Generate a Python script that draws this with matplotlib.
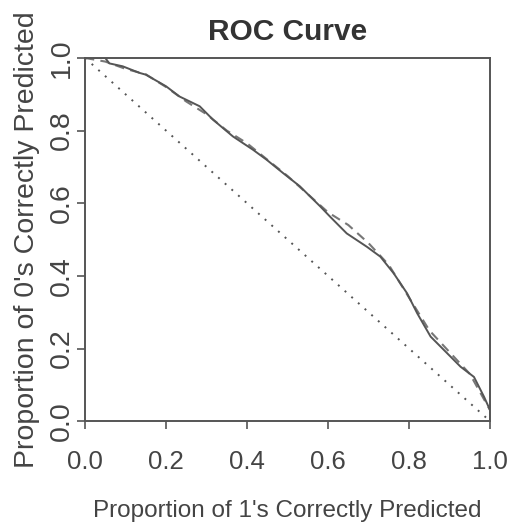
import matplotlib.pyplot as plt

# empirical ROC (solid)
fpr_obs = [0.0, 0.05, 0.06, 0.093, 0.134, 0.15, 0.2, 0.233, 0.283, 0.316, 0.365, 0.415,
           0.448, 0.489, 0.53, 0.58, 0.605, 0.646, 0.696, 0.729, 0.762, 0.795, 0.82,
           0.853, 0.886, 0.927, 0.96, 0.985, 1.0, 1.0]
tnr_obs = [1.0, 1.0, 0.985, 0.977, 0.959, 0.954, 0.922, 0.894, 0.867, 0.83, 0.784, 0.747,
           0.72, 0.683, 0.647, 0.592, 0.563, 0.517, 0.48, 0.453, 0.407, 0.352, 0.297,
           0.233, 0.196, 0.15, 0.122, 0.067, 0.03, 0.0]

# smoothed ROC (dashed)
fpr_fit = [0.0, 0.05, 0.1, 0.15, 0.2, 0.25, 0.3, 0.35, 0.4, 0.45, 0.5, 0.55, 0.6,
           0.65, 0.7, 0.75, 0.8, 0.85, 0.9, 0.95, 0.98, 1.0, 1.0]
tnr_fit = [1.0, 0.99, 0.97, 0.955, 0.92, 0.88, 0.845, 0.8, 0.765, 0.72, 0.675, 0.625,
           0.575, 0.54, 0.49, 0.43, 0.34, 0.25, 0.19, 0.13, 0.07, 0.03, 0.0]

ticks = [0.0, 0.2, 0.4, 0.6, 0.8, 1.0]
tick_labels = ['0.0', '0.2', '0.4', '0.6', '0.8', '1.0']

plt.rcParams['font.family'] = ['Liberation Sans', 'DejaVu Sans']
col = '#555555'
txt = '#444444'

fig = plt.figure(figsize=(5.09, 5.22), dpi=100)
ax = fig.add_axes([0.167, 0.193, 0.796, 0.696])

ax.plot([0, 1], [1, 0], linestyle=(0, (1, 3.6)), color=col, lw=1.4)
ax.plot(fpr_fit, tnr_fit, linestyle=(0, (4.5, 3)), color='#777777', lw=1.5)
ax.plot(fpr_obs, tnr_obs, color=col, lw=1.4)

ax.set_xlim(0, 1)
ax.set_ylim(0, 1)
ax.set_xticks(ticks)
ax.set_xticklabels(tick_labels)
ax.set_yticks(ticks)
ax.set_yticklabels(tick_labels, rotation=90, va='center')
ax.tick_params(direction='out', length=5.5, width=1.2, color=col, labelcolor=txt)
ax.tick_params(axis='x', labelsize=18.5, pad=15)
ax.tick_params(axis='y', labelsize=20.5, pad=2)
for s in ax.spines.values():
    s.set_color(col)
    s.set_linewidth(1.4)

ax.set_title('ROC Curve', fontsize=21.5, fontweight='bold', color='#333333', pad=13)
ax.set_xlabel("Proportion of 1's Correctly Predicted", fontsize=17.5, color=txt, labelpad=19)
ax.set_ylabel("Proportion of 0's Correctly Predicted", fontsize=20.5, color=txt, labelpad=6)

fig.savefig('out.png', dpi=100)
